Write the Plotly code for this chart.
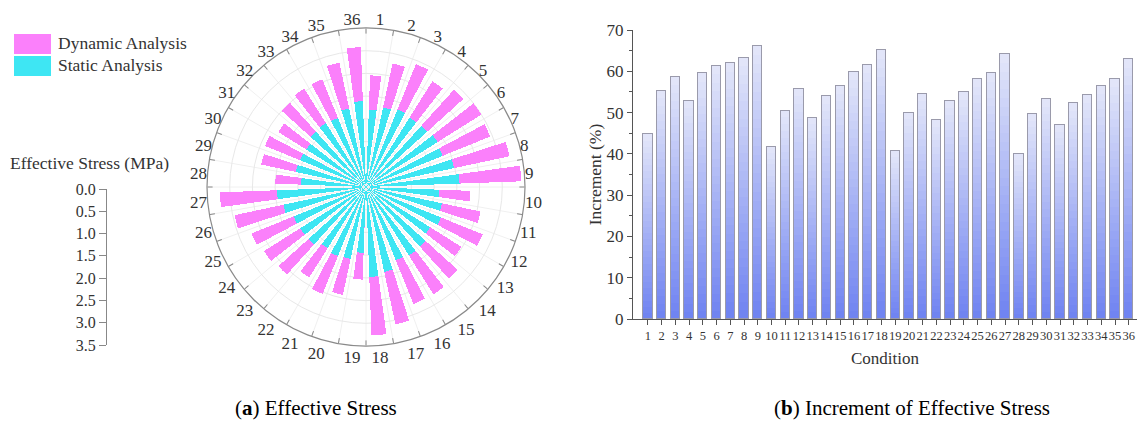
import plotly.graph_objects as go

# ---------------- data ----------------
conditions = list(range(1, 37))
condition_labels = [str(c) for c in conditions]

static_stress = [1.70, 1.79, 1.84, 1.80, 1.81, 1.86, 1.82, 1.98, 2.06,
                 1.62, 1.71, 1.78, 1.67, 1.77, 1.78, 1.74, 1.91, 1.98,
                 1.45, 1.62, 1.64, 1.59, 1.70, 1.71, 1.72, 1.86, 1.96,
                 1.43, 1.58, 1.57, 1.55, 1.64, 1.66, 1.64, 1.77, 1.89]

dynamic_stress = [2.46, 2.78, 2.92, 2.75, 2.89, 3.00, 2.95, 3.23, 3.42,
                  2.30, 2.58, 2.77, 2.48, 2.72, 2.79, 2.78, 3.09, 3.27,
                  2.04, 2.43, 2.54, 2.35, 2.60, 2.65, 2.72, 2.96, 3.22,
                  2.00, 2.36, 2.40, 2.28, 2.50, 2.56, 2.56, 2.80, 3.08]

increment = [44.7, 55.3, 58.7, 52.8, 59.5, 61.3, 62.0, 63.3, 66.1,
             41.6, 50.5, 55.8, 48.8, 53.9, 56.5, 59.9, 61.6, 65.2,
             40.6, 50.0, 54.6, 48.1, 52.9, 55.0, 58.2, 59.5, 64.2,
             39.9, 49.7, 53.2, 46.9, 52.2, 54.2, 56.5, 58.2, 63.0]

radial_ticks = [0.0, 0.5, 1.0, 1.5, 2.0, 2.5, 3.0, 3.5]

# ---------------- style ----------------
FONT = "Liberation Serif"
MAGENTA = "#fb80fb"
CYAN = "#3ee6f3"
TXT = "#333333"
W, H = 1137, 423

sector = 360 / len(conditions)
theta_centers = [(c - 0.5) * sector for c in conditions]
theta_bounds = [c * sector for c in range(len(conditions))]

fig = go.Figure()

# ---- polar bars (overlayed: dynamic behind, static in front) ----
fig.add_trace(go.Barpolar(r=dynamic_stress, theta=theta_centers, width=5.8,
                          marker=dict(color=MAGENTA, line=dict(width=0)),
                          name="Dynamic Analysis", showlegend=False, subplot="polar"))
fig.add_trace(go.Barpolar(r=static_stress, theta=theta_centers, width=5.8,
                          marker=dict(color=CYAN, line=dict(width=0)),
                          name="Static Analysis", showlegend=False, subplot="polar"))
# label-only overlay polar
fig.add_trace(go.Scatterpolar(r=[None], theta=[None], subplot="polar2",
                              showlegend=False, hoverinfo="skip"))

# ---- gradient bars on right panel (stacked slices) ----
def hex2rgb(h):
    h = h.lstrip("#")
    return tuple(int(h[i:i + 2], 16) for i in (0, 2, 4))

bottom_c = hex2rgb("#6e82f1")
top_c = hex2rgb("#e4e7f9")
K = 30
for k in range(K):
    t = (k + 0.5) / K
    col = "rgb(%d,%d,%d)" % tuple(round(b + (tp - b) * t) for b, tp in zip(bottom_c, top_c))
    fig.add_trace(go.Bar(x=conditions, y=[v / K for v in increment], width=0.68,
                         marker=dict(color=col, line=dict(width=0)),
                         showlegend=False, hoverinfo="skip",
                         xaxis="x", yaxis="y"))
# outline
fig.add_trace(go.Bar(x=conditions, y=increment, width=0.68,
                     marker=dict(color="rgba(0,0,0,0)", line=dict(color="#9a9aab", width=1)),
                     showlegend=False, xaxis="x3", yaxis="y3"))

# ---- radial scale axis (left) ----
fig.add_trace(go.Scatter(x=[None], y=[None], xaxis="x2", yaxis="y2",
                         showlegend=False, hoverinfo="skip"))

# polar geometry (pixels)
cx, cy, R = 366, 187, 159
pdom_x = [(cx - R) / W, (cx + R) / W]
pdom_y = [(H - cy - R) / H, (H - cy + R) / H]

XR = [-0.08, 36.6]

fig.update_layout(
    width=W, height=H,
    margin=dict(l=0, r=0, t=0, b=0, pad=0, autoexpand=False),
    paper_bgcolor="white", plot_bgcolor="white",
    font=dict(family=FONT, color=TXT, size=15),
    showlegend=False,
    barmode="stack", bargap=0,
    polar=dict(
        domain=dict(x=pdom_x, y=pdom_y),
        bgcolor="white",
        barmode="overlay",
        radialaxis=dict(range=[0, 3.5], tickvals=radial_ticks, showticklabels=False,
                        ticks="", showline=False, gridcolor="#e8e8e8", gridwidth=1),
        angularaxis=dict(rotation=90, direction="clockwise", tickmode="array",
                         tickvals=theta_bounds, showticklabels=False,
                         ticks="inside", ticklen=5, tickcolor="#888888",
                         showline=True, linecolor="#8a8a8a", linewidth=1.2,
                         gridcolor="#f0f0f0", gridwidth=1),
    ),
    polar2=dict(
        domain=dict(x=pdom_x, y=pdom_y),
        bgcolor="rgba(0,0,0,0)",
        radialaxis=dict(range=[0, 3.5], visible=False),
        angularaxis=dict(rotation=90, direction="clockwise", tickmode="array",
                         tickvals=theta_centers, ticktext=condition_labels,
                         ticks="", showline=False, showgrid=False,
                         tickfont=dict(family=FONT, size=17, color=TXT)),
    ),
    xaxis=dict(domain=[633 / W, 1.0], range=XR, tickmode="array",
               tickvals=conditions, ticktext=condition_labels, automargin=False,
               tickangle=0, ticklabeloverflow="allow",
               ticks="outside", ticklen=5, tickcolor="#555", showline=True,
               linecolor="#555", linewidth=1.2, showgrid=False, zeroline=False,
               tickfont=dict(family=FONT, size=12.5, color=TXT),
               title=dict(text="Condition", font=dict(family=FONT, size=17, color=TXT), standoff=10)),
    yaxis=dict(domain=[(H - 319) / H, (H - 30) / H], range=[0, 70], dtick=10, automargin=False,
               ticks="outside", ticklen=5, tickcolor="#555", showline=True,
               linecolor="#555", linewidth=1.2, showgrid=False, zeroline=False,
               minor=dict(dtick=5, ticks="outside", ticklen=3, tickcolor="#555"),
               tickfont=dict(family=FONT, size=17, color=TXT),
               title=dict(text="Increment (%)", font=dict(family=FONT, size=17.5, color=TXT), standoff=0)),
    xaxis3=dict(domain=[633 / W, 1.0], range=XR, visible=False, overlaying="x"),
    yaxis3=dict(domain=[(H - 319) / H, (H - 30) / H], range=[0, 70], visible=False,
                overlaying="y", anchor="x3"),
    xaxis2=dict(domain=[107 / W, 120 / W], range=[0, 1], visible=False),
    yaxis2=dict(domain=[(H - 345) / H, (H - 189) / H], range=[3.5, 0], anchor="x2",
                tickvals=radial_ticks, tickformat=".1f", ticks="outside", ticklen=7,
                tickcolor="#888", showline=True, linecolor="#888", linewidth=1,
                showgrid=False, zeroline=False, automargin=False,
                tickfont=dict(family=FONT, size=16, color=TXT)),
)

# ---- custom legend ----
fig.add_shape(type="rect", xref="paper", yref="paper",
              x0=14 / W, x1=51 / W, y0=(H - 54) / H, y1=(H - 34) / H,
              fillcolor=MAGENTA, line=dict(width=0))
fig.add_shape(type="rect", xref="paper", yref="paper",
              x0=14 / W, x1=51 / W, y0=(H - 76) / H, y1=(H - 56) / H,
              fillcolor=CYAN, line=dict(width=0))
fig.add_annotation(text="Dynamic Analysis", xref="paper", yref="paper",
                   x=56 / W, y=(H - 43) / H, xanchor="left", yanchor="middle",
                   showarrow=False, font=dict(family=FONT, size=17.5, color=TXT))
fig.add_annotation(text="Static Analysis", xref="paper", yref="paper",
                   x=56 / W, y=(H - 65) / H, xanchor="left", yanchor="middle",
                   showarrow=False, font=dict(family=FONT, size=17.5, color=TXT))
fig.add_annotation(text="Effective Stress (MPa)", xref="paper", yref="paper",
                   x=8 / W, y=(H - 163) / H, xanchor="left", yanchor="middle",
                   showarrow=False, font=dict(family=FONT, size=17.5, color=TXT))

# ---- captions ----
fig.add_annotation(text="(<b>a</b>) Effective Stress", xref="paper", yref="paper",
                   x=316 / W, y=(H - 408) / H, xanchor="center", yanchor="middle",
                   showarrow=False, font=dict(family=FONT, size=21, color="black"))
fig.add_annotation(text="(<b>b</b>) Increment of Effective Stress", xref="paper", yref="paper",
                   x=912 / W, y=(H - 408) / H, xanchor="center", yanchor="middle",
                   showarrow=False, font=dict(family=FONT, size=21, color="black"))

fig.write_html("out.html", config={"displayModeBar": False},
               post_script="document.body.style.margin='0';document.body.style.padding='0';")
